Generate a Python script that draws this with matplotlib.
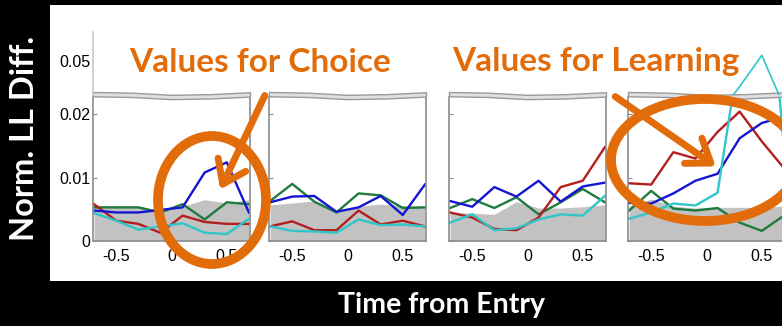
import numpy as np
import matplotlib.pyplot as plt
from matplotlib.patches import Ellipse, Rectangle, FancyArrowPatch

# time bins (s from entry)
x_bins = [-0.7, -0.5, -0.3, -0.1, 0.1, 0.3, 0.5, 0.7]

# values for choice
blue1 = [0.0048, 0.0045, 0.0045, 0.0049, 0.0053, 0.0108, 0.0124, 0.0045]
red1 = [0.0058, 0.0032, 0.0027, 0.0013, 0.0040, 0.0030, 0.0027, 0.0027]
green1 = [0.0053, 0.0053, 0.0053, 0.0045, 0.0058, 0.0034, 0.0061, 0.0058]
cyan1 = [0.0044, 0.0032, 0.0018, 0.0023, 0.0028, 0.0013, 0.0011, 0.0035]
gray1 = [0.0055, 0.0055, 0.0055, 0.0048, 0.0055, 0.0065, 0.0060, 0.0065]

blue2 = [0.0061, 0.0070, 0.0071, 0.0046, 0.0053, 0.0071, 0.0041, 0.0089]
red2 = [0.0023, 0.0031, 0.0017, 0.0017, 0.0048, 0.0026, 0.0032, 0.0023]
green2 = [0.0063, 0.0090, 0.0062, 0.0045, 0.0075, 0.0072, 0.0052, 0.0053]
cyan2 = [0.0023, 0.0016, 0.0015, 0.0013, 0.0034, 0.0025, 0.0026, 0.0023]
gray2 = [0.0057, 0.0060, 0.0063, 0.0048, 0.0055, 0.0058, 0.0056, 0.0055]

# values for learning
blue3 = [0.0063, 0.0054, 0.0085, 0.0070, 0.0095, 0.0062, 0.0086, 0.0092]
red3 = [0.0045, 0.0037, 0.0019, 0.0017, 0.0037, 0.0085, 0.0095, 0.0148]
green3 = [0.0052, 0.0066, 0.0052, 0.0069, 0.0042, 0.0061, 0.0082, 0.0061]
cyan3 = [0.0029, 0.0042, 0.0017, 0.0020, 0.0034, 0.0042, 0.0040, 0.0071]
gray3 = [0.0045, 0.0044, 0.0042, 0.0062, 0.0052, 0.0052, 0.0054, 0.0057]

blue4 = [0.0060, 0.0059, 0.0075, 0.0095, 0.0106, 0.0162, 0.0186, 0.0196]
red4 = [0.0091, 0.0089, 0.0140, 0.0130, 0.0172, 0.0204, 0.0157, 0.0115]
green4 = [0.0048, 0.0079, 0.0051, 0.0048, 0.0052, 0.0029, 0.0016, 0.0040]
cyan4 = [0.0035, 0.0045, 0.0059, 0.0056, 0.0076, 0.0300, 0.0540, 0.0150]
gray4 = [0.0055, 0.0066, 0.0055, 0.0052, 0.0053, 0.0053, 0.0053, 0.0055]

panels = [
    (blue1, red1, green1, cyan1, gray1),
    (blue2, red2, green2, cyan2, gray2),
    (blue3, red3, green3, cyan3, gray3),
    (blue4, red4, green4, cyan4, gray4),
]
panel_left_px = [93, 269, 449, 628]

x_ticks = [-0.5, 0, 0.5]
x_ticklabels = ['-0.5', '0', '0.5']
low_ticks = [0, 0.01, 0.02]
low_ticklabels = ['0', '0.01', '0.02']
high_ticks = [0.05]
high_ticklabels = ['0.05']

# wavy axis-break band (axes fraction)
break_x = [0, 0.25, 0.5, 0.75, 1]
break_y = [1.005, 1.0, 0.985, 0.99, 1.003]

W, H = 782, 326
orange = '#E36C0A'
spine_gray = '#8c8c8c'
colors = {'blue': '#1414d2', 'red': '#b41e1e', 'green': '#1f7a3e', 'cyan': '#2ec6c8'}


def fx(px):
    return px / W


def fy(py):
    return 1 - py / H


fig = plt.figure(figsize=(W / 100, H / 100), dpi=100, facecolor='black')
fig.patches.append(Rectangle((fx(50), fy(281)), fx(782) - fx(50), fy(5) - fy(281),
                             transform=fig.transFigure, facecolor='white',
                             edgecolor='none', zorder=-5))

pw = 157
for i, (blue, red, green, cyan, gray) in enumerate(panels):
    left = fx(panel_left_px[i])
    ax = fig.add_axes([left, fy(241), fx(pw), fy(97) - fy(241)])
    ax_up = fig.add_axes([left, fy(95), fx(pw), fy(32) - fy(95)])

    ax.fill_between(x_bins, 0, gray, color='#c2c2c2', lw=0)
    ax.plot(x_bins, green, color=colors['green'], lw=1.7)
    ax.plot(x_bins, red, color=colors['red'], lw=1.7)
    ax.plot(x_bins, blue, color=colors['blue'], lw=1.7)
    ax.plot(x_bins, cyan, color=colors['cyan'], lw=1.7)
    ax_up.plot(x_bins, cyan, color=colors['cyan'], lw=1.2)

    ax.set_xlim(-0.71, 0.71)
    ax.set_ylim(0, 0.0227)
    ax_up.set_xlim(-0.71, 0.71)
    ax_up.set_ylim(0.0235, 0.072)
    ax.set_facecolor('none')
    ax_up.set_facecolor('none')

    for s in ['left', 'right', 'bottom']:
        ax.spines[s].set_color(spine_gray)
        ax.spines[s].set_linewidth(1.2)
    ax.spines['top'].set_visible(False)
    ax.fill_between(break_x, break_y, [b + 0.03 for b in break_y],
                    transform=ax.transAxes, clip_on=False,
                    facecolor='#e0e0e0', edgecolor='#9a9a9a', lw=1.0, zorder=5)

    ax.set_xticks(x_ticks)
    ax.set_xticklabels(x_ticklabels, fontsize=11.5, family='Liberation Sans')
    ax.tick_params(axis='x', length=0, pad=6)
    ax.set_yticks(low_ticks)
    ax.tick_params(axis='y', direction='in', length=3, color=spine_gray)
    for s in ax_up.spines.values():
        s.set_visible(False)
    ax_up.set_xticks([])
    if i == 0:
        ax.set_yticklabels(low_ticklabels, fontsize=11.5, family='Liberation Sans')
        ax.tick_params(axis='y', pad=2)
        ax_up.spines['left'].set_visible(True)
        ax_up.spines['left'].set_color('#c8c8c8')
        ax_up.spines['left'].set_linewidth(1.2)
        ax_up.set_yticks(high_ticks)
        ax_up.set_yticklabels(high_ticklabels, fontsize=11.5, family='Liberation Sans')
        ax_up.tick_params(axis='y', length=0, pad=2)
    else:
        ax.set_yticklabels([])
        ax_up.set_yticks([])

# slide labels
fig.text(fx(25), fy(138), 'Norm. LL Diff.', color='white', rotation=90,
         ha='center', va='center', fontsize=23.5, fontweight='bold', family='Lato')
fig.text(fx(441), fy(305), 'Time from Entry', color='white',
         ha='center', va='center', fontsize=20.5, fontweight='bold', family='Lato')
fig.text(fx(260), fy(62), 'Values for Choice', color=orange,
         ha='center', va='center', fontsize=24, fontweight='bold', family='Lato')
fig.text(fx(596), fy(62), 'Values for Learning', color=orange,
         ha='center', va='center', fontsize=24, fontweight='bold', family='Lato')

# highlight circles and arrows
fig.patches.append(Ellipse((fx(212), fy(200)), fx(108), fy(0) - fy(128),
                           transform=fig.transFigure, fill=False,
                           edgecolor=orange, lw=7, zorder=10))
fig.patches.append(Ellipse((fx(705), fy(160)), fx(188), fy(0) - fy(122),
                           transform=fig.transFigure, fill=False,
                           edgecolor=orange, lw=7, zorder=10))
fig.patches.append(FancyArrowPatch((fx(266), fy(93)), (fx(219), fy(192)),
                                   transform=fig.transFigure,
                                   arrowstyle='->,head_length=0.7,head_width=0.5',
                                   mutation_scale=22, color=orange, lw=5, zorder=11))
fig.patches.append(FancyArrowPatch((fx(613), fy(95)), (fx(718), fy(168)),
                                   transform=fig.transFigure,
                                   arrowstyle='->,head_length=0.7,head_width=0.5',
                                   mutation_scale=22, color=orange, lw=5, zorder=11))

fig.savefig('out.png', dpi=100, facecolor='black')
